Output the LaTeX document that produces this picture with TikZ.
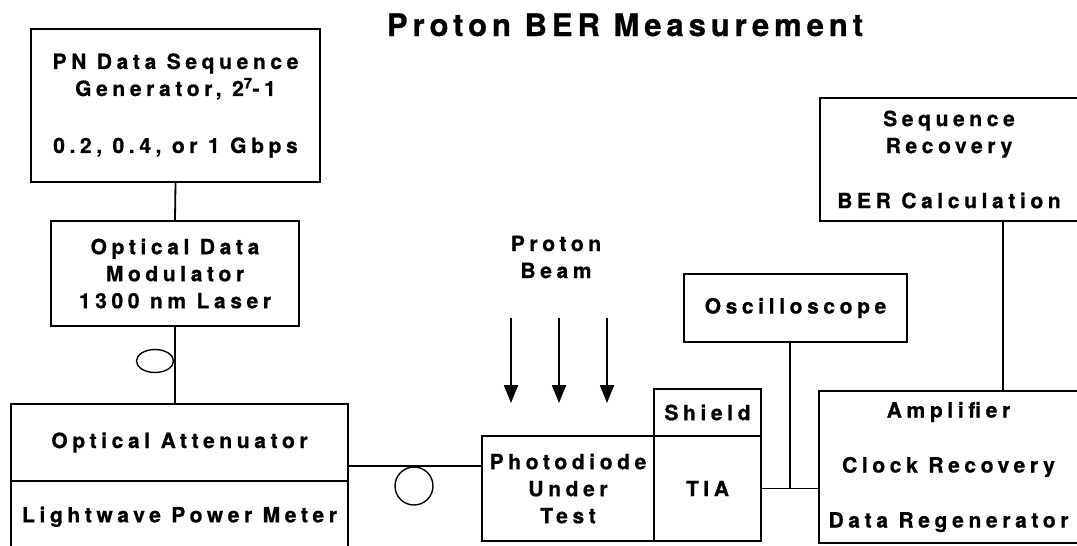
\documentclass[tikz,border=0pt]{standalone}
\usepackage{fontspec}
\newfontfamily\diafont{texgyreheros-bold.otf}[LetterSpace=22,FakeBold=0.8]
\newfontfamily\titlefont{texgyreheros-bold.otf}[LetterSpace=16,FakeBold=0.8]
\usetikzlibrary{arrows.meta,positioning,calc,shapes.geometric}

\begin{document}
\begin{tikzpicture}[
  x=1pt,y=-1pt,
  font=\diafont\fontsize{21}{27}\selectfont,
  box/.style={draw=black, line width=1.8pt, inner sep=0pt, outer sep=0pt, align=center},
  link/.style={draw=black, line width=1.8pt},
  loopy/.style={draw=black, line width=1.4pt, inner sep=0pt},
  beam/.style={-{Triangle[length=18pt,width=14pt]}, draw=black, line width=2pt}
]
\useasboundingbox (0,0) rectangle (1077,546);

% Title
\node[font=\titlefont\fontsize{31}{36}\selectfont, anchor=base] (title) at (625,36)
  {Proton BER Measurement};

% ================= transmitter side =================
\node[box, minimum width=289pt, minimum height=153pt] (pngen) at (175.5,105.5)
  {PN Data Sequence\\Generator, 2\textsuperscript{7}-1\\[30pt]0.2, 0.4, or 1\enspace Gbps};
\node[box, minimum width=248pt, minimum height=105pt] (modul) at (175,273.5)
  {Optical Data\\Modulator\\1300 nm\enspace Laser};
\node[box, minimum width=337pt, minimum height=77pt] (atten) at (179.5,442.5)
  {Optical Attenuator};
\node[box, minimum width=337pt, minimum height=71.6pt] (meter) at (179.5,516.8)
  {Lightwave Power Meter};
\node[loopy, ellipse, minimum width=37pt, minimum height=23pt] (fiber1) at (155,361) {};

\draw[link] (pngen.south) -- (modul.north);
\draw[link] (modul.south) -- (modul.south |- atten.north);

% ================= device under test =================
\node[box, minimum width=172pt, minimum height=105pt] (diode) at (568,488.5)
  {Photodiode\\Under\\Test};
\node[box, minimum width=107pt, minimum height=105pt] (tia) at (707.5,488.5) {TIA};
\node[box, minimum width=107pt, minimum height=47pt] (shield) at (707.5,412.5) {Shield};
\node[loopy, circle, minimum size=38pt] (fiber2) at (414,486) {};

\draw[link] (atten.south east |- fiber2.north) -- (diode.west |- fiber2.north);

\node[align=center, inner sep=0pt] (beamlbl) at (556,257) {Proton\\Beam};
\foreach \bx [count=\i] in {511,559,607} {
  \coordinate (bs\i) at (\bx,318);
  \coordinate (be\i) at (\bx,403);
  \draw[beam] (bs\i) -- (be\i);
}

% ================= receiver side =================
\node[box, minimum width=223pt, minimum height=68pt] (scope) at (795.5,308) {Oscilloscope};
\node[box, minimum width=258pt, minimum height=123pt] (seqrec) at (949,159.5)
  {Sequence\\Recovery\\[28pt]BER Calculation};
\node[box, minimum width=259pt, minimum height=152pt] (ampl) at (948.5,467)
  {Amplifier\\[28pt]Clock Recovery\\[28pt]Data Regenerator};

\coordinate (tap) at ($(tia.east)!0.5!(ampl.west |- tia.east)$);
\draw[link] (tia.east) -- (ampl.west |- tia.east);
\draw[link] (tap) -- (tap |- scope.south);
\draw[link] ([xshift=54pt]seqrec.south) -- ([xshift=54pt]seqrec.south |- ampl.north);

\end{tikzpicture}
\end{document}
